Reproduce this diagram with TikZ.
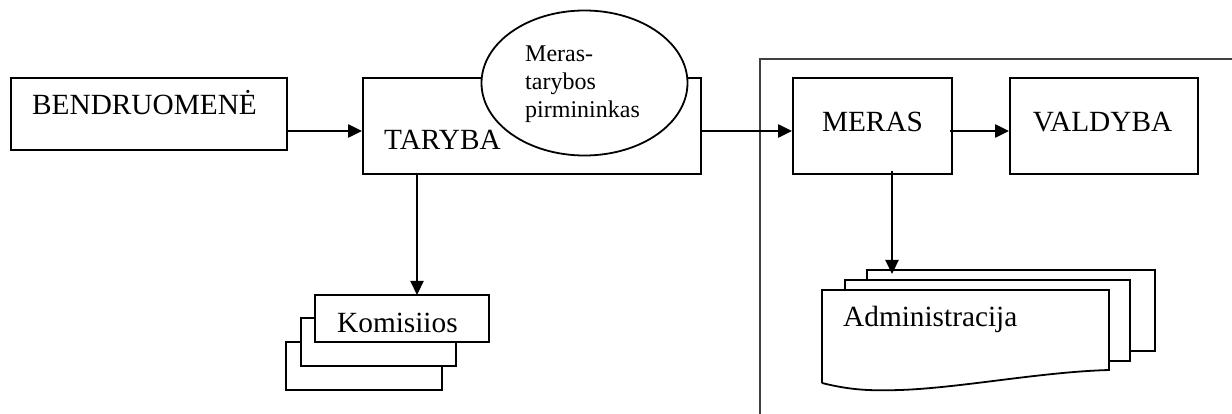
\documentclass[tikz,border=0pt]{standalone}
\usepackage{fontspec}
\setmainfont{Liberation Serif}
\usetikzlibrary{arrows.meta,shapes.geometric}

\begin{document}
\begin{tikzpicture}[x=1pt,y=-1pt,
  box/.style={draw, line width=1.8pt, fill=white, rectangle, inner sep=0pt},
  sheet/.style={draw, line width=1.8pt, fill=white},
  lbl/.style={font=\fontsize{29.3}{33}\selectfont, inner sep=0pt},
  arr/.style={line width=2.2pt, -{Triangle[length=14pt,width=13pt]}},
  frameline/.style={draw=black!75, line width=1.4pt}
]
\useasboundingbox (0,0) rectangle (1232,414);

% community and council
\node[box, minimum width=276pt, minimum height=72pt] (bend) at (149,114) {};
\node[lbl, anchor=base west] (bendtxt) at (32,115) {BENDRUOMENĖ};

\node[box, minimum width=338pt, minimum height=96pt] (tar) at (532,126) {};
\node[lbl, anchor=base west] (tartxt) at (384,150) {TARYBA};

\node[draw, line width=1.8pt, fill=white, ellipse, inner sep=0pt,
      minimum width=206pt, minimum height=145pt] (pirm) at (584.5,83) {};
% the base anchor of a multi-line node sits on its last line
\node[font=\fontsize{24}{28}\selectfont, inner sep=0pt, align=left,
      anchor=base west] (pirmtxt) at (525,118) {Meras-\\tarybos\\pirmininkas};

% executive frame
\coordinate (frbl) at (760,414);
\coordinate (frtl) at (760,59);
\coordinate (frtr) at (1232,59);
\draw[frameline] (frbl) -- (frtl) -- (frtr);

\node[box, minimum width=159pt, minimum height=96pt] (meras) at (872.5,126) {};
\node[lbl, anchor=base] (merastxt) at (872.5,132) {MERAS};

\node[box, minimum width=188pt, minimum height=96pt] (vald) at (1104,126) {};
\node[lbl, anchor=base] (valdtxt) at (1102.5,132) {VALDYBA};

% commissions (stack of sheets)
\node[box, minimum width=156pt, minimum height=48pt] (kom3) at (364,366) {};
\node[box, minimum width=155pt, minimum height=48pt] (kom2) at (378.5,342) {};
\node[box, minimum width=174pt, minimum height=47pt] (kom1) at (402,318.5) {};
\node[lbl, anchor=base west] (komtxt) at (337,332) {Komisiios};

% administration (stack of documents)
\node[box, minimum width=288pt, minimum height=81pt] (adm3) at (1011,310.5) {};
\node[box, minimum width=285pt, minimum height=81pt] (adm2) at (987.5,320.5) {};
\coordinate (admtl) at (822,290);
\coordinate (admtr) at (1109,290);
\coordinate (admbr) at (1109,370);
\coordinate (admbl) at (822,383);
\draw[sheet] (admbl) -- (admtl) -- (admtr) -- (admbr)
  .. controls (1040,372) and (960,388) .. (900,390)
  .. controls (870,391) and (850,390) .. (admbl);
\node[lbl, anchor=base west] (admtxt) at (843,326) {Administracija};

% connectors
\coordinate (row) at (0,131);
\draw[arr] (bend.east |- row) -- (tar.west |- row);
\draw[arr] (tar.east |- row) -- (meras.west |- row);
\draw[arr] ([xshift=-3pt]meras.east |- row) -- (vald.west |- row);

\coordinate (komin) at (417,295);
\draw[arr] (tar.south -| komin) -- (komin);

\coordinate (admin) at (892,274);
\draw[arr] ([yshift=4pt]meras.south -| admin) -- (admin);
\end{tikzpicture}
\end{document}
